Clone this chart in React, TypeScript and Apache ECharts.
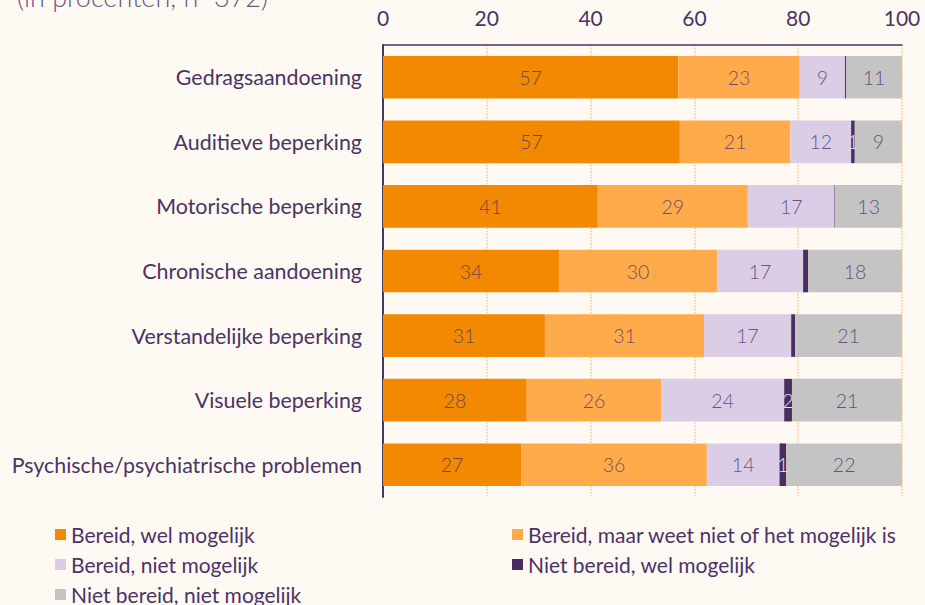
import React, { useEffect, useRef } from "react";
import * as echarts from "echarts";

const categories = [
  "Gedragsaandoening",
  "Auditieve beperking",
  "Motorische beperking",
  "Chronische aandoening",
  "Verstandelijke beperking",
  "Visuele beperking",
  "Psychische/psychiatrische problemen",
];

const seriesNames = [
  "Bereid, wel mogelijk",
  "Bereid, maar weet niet of het mogelijk is",
  "Bereid, niet mogelijk",
  "Niet bereid, wel mogelijk",
  "Niet bereid, niet mogelijk",
];

const welMogelijk = [56.9, 57.2, 41.4, 33.9, 31.2, 27.7, 26.6];
const weetNiet = [23.4, 21.3, 28.9, 30.45, 30.65, 25.9, 35.8];
const nietMogelijk = [8.7, 11.7, 16.7, 16.6, 16.8, 23.7, 14.0];
const nietBereidWel = [0.2, 0.7, 0.15, 0.96, 0.75, 1.5, 1.3];
const nietBereidNiet = [10.8, 9.1, 12.85, 18.09, 20.6, 21.2, 22.3];

const nietBereidWelLabels = ["", "1", "", "", "", "2", "1"];

const xTicks = [0, 20, 40, 60, 80, 100];

const colors = ["#f28900", "#ffab4c", "#dbcde6", "#4a2c5f", "#c4c4c4"];

const FONT = "Lato, 'Noto Sans', sans-serif";
const TEXT = "#4b3366";

// legend placement: [series index, left, top]
const legendSlots: [number, number, number][] = [
  [0, 50, 519],
  [1, 507, 519],
  [2, 50, 549],
  [3, 507, 549],
  [4, 50, 579],
];

export default function App() {
  const ref = useRef<HTMLDivElement>(null);

  useEffect(() => {
    if (!ref.current) return;
    const chart = echarts.init(ref.current, undefined, { renderer: "svg" });
    const values = [welMogelijk, weetNiet, nietMogelijk, nietBereidWel, nietBereidNiet];

    const series = values.map((vals, si) => ({
      type: "bar",
      name: seriesNames[si],
      stack: "total",
      barCategoryGap: "34%",
      itemStyle: { color: colors[si] },
      emphasis: { disabled: true },
      label: {
        show: true,
        position: "inside",
        fontFamily: FONT,
        fontSize: 19.5,
        fontWeight: 300,
        color: si === 3 ? "#e9e1ef" : "rgba(75,51,102,0.8)",
        formatter: (p: any) => {
          if (si === 3) return nietBereidWelLabels[p.dataIndex];
          const v = Math.round(p.value);
          return v >= 1 ? String(v) : "";
        },
      },
      data: vals,
    }));

    chart.setOption({
      animation: false,
      backgroundColor: "#fef9f3",
      textStyle: { fontFamily: FONT },
      graphic: [
        {
          type: "text",
          left: 17,
          top: -17,
          style: {
            text: "(in procenten, n=372)",
            font: `300 27px ${FONT}`,
            fill: "#6a5687",
          },
        },
      ],
      legend: legendSlots.map(([si, left, top]) => ({
        data: [seriesNames[si]],
        orient: "horizontal",
        left,
        top,
        itemWidth: 11,
        itemHeight: 11,
        icon: "rect",
        selectedMode: false,
        textStyle: { fontFamily: FONT, fontSize: 21, lineHeight: 20, color: TEXT },
      })),
      grid: { left: 383, right: 23, top: 45, bottom: 108, containLabel: false },
      xAxis: {
        type: "value",
        position: "top",
        min: xTicks[0],
        max: xTicks[xTicks.length - 1],
        interval: 20,
        axisLine: { show: true, lineStyle: { color: TEXT, width: 1.5 } },
        axisTick: { show: false },
        axisLabel: { color: TEXT, fontFamily: FONT, fontSize: 21, margin: 17 },
        splitLine: { show: true, lineStyle: { color: "#ffc58a", type: "dotted", width: 1.5 } },
      },
      yAxis: {
        type: "category",
        inverse: true,
        data: categories,
        axisLine: { show: true, lineStyle: { color: TEXT, width: 2 } },
        axisTick: { show: false },
        axisLabel: { color: TEXT, fontFamily: FONT, fontSize: 21.4, margin: 21 },
      },
      series,
    });

    return () => chart.dispose();
  }, []);

  return (
    <div
      ref={ref}
      style={{ position: "absolute", left: 0, top: 0, width: 925, height: 605 }}
    />
  );
}
